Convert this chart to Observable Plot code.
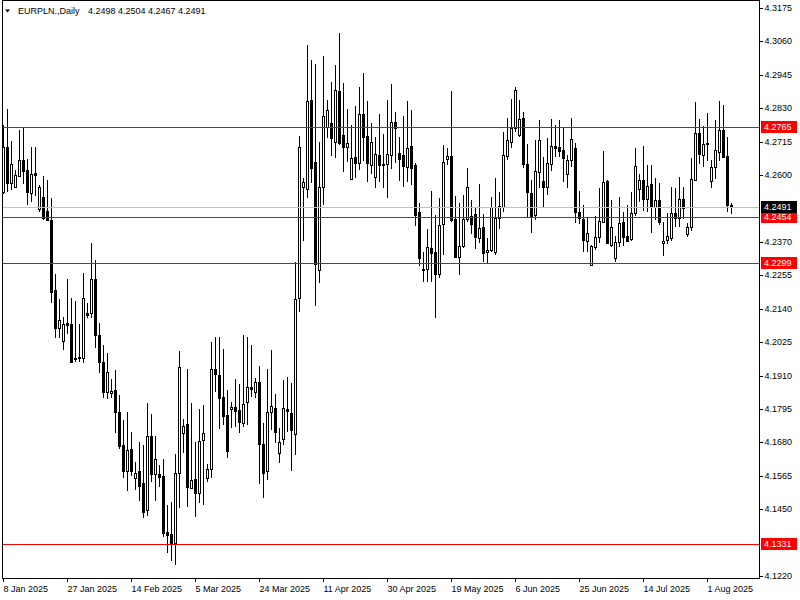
<!DOCTYPE html>
<html>
<head>
<meta charset="utf-8">
<script src="https://cdn.jsdelivr.net/npm/d3@7"></script>
<script src="https://cdn.jsdelivr.net/npm/@observablehq/plot@0.6"></script>
<style>
  html, body { margin: 0; padding: 0; background: #fff; }
  #chart { width: 800px; height: 600px; }
</style>
</head>
<body>
<div id="chart"></div>
<script>
// ---------------- data ----------------
const symbol = "EURPLN.,Daily";

const open = [
4.2542,4.2697,4.2573,4.2559,4.2597,4.2652,4.2618,4.2539,4.2608,4.2484,
4.2525,4.2475,4.2446,4.2205,4.2074,4.2029,4.2091,4.2088,4.1971,4.1971,
4.1971,4.2126,4.2126,4.2243,4.2050,4.1957,4.1854,4.1850,4.1861,4.1785,
4.1671,4.1581,4.1657,4.1557,4.1581,4.1540,4.1448,4.1701,4.1572,4.1572,
4.1565,4.1372,4.1365,4.1334,4.1574,4.1713,4.1744,4.1523,4.1554,4.1506,
4.1688,4.1557,4.1590,4.1933,4.1912,4.1836,4.1775,4.1795,4.1802,4.1792,
4.1747,4.1819,4.1871,4.1854,4.1888,4.1675,4.1581,4.1785,4.1799,4.1644,
4.1692,4.1795,4.1782,4.1709,4.2177,4.2559,4.2552,4.2859,4.2645,4.2273,
4.2559,4.2766,4.2780,4.2714,4.2889,4.2738,4.2697,4.2587,4.2662,4.2642,
4.2811,4.2735,4.2635,4.2594,4.2668,4.2638,4.2638,4.2668,4.2783,4.2676,
4.2668,4.2628,4.2701,4.2635,4.2473,4.2273,4.2278,4.2349,4.2336,4.2260,
4.2432,4.2656,4.2666,4.2449,4.2318,4.2356,4.2449,4.2459,4.2467,4.2384,
4.2421,4.2336,4.2342,4.2336,4.2453,4.2491,4.2666,4.2714,4.2762,4.2738,
4.2797,4.2638,4.2539,4.2463,4.2611,4.2580,4.2559,4.2638,4.2701,4.2697,
4.2686,4.2604,4.2652,4.2694,4.2473,4.2449,4.2373,4.2291,4.2353,4.2387,
4.2439,4.2580,4.2360,4.2315,4.2370,4.2439,4.2390,4.2380,4.2470,4.2552,
4.2583,4.2518,4.2570,4.2491,4.2515,4.2367,4.2377,4.2384,4.2470,4.2453,
4.2518,4.2398,4.2421,4.2583,4.2745,4.2668,4.2711,4.2580,4.2628,4.2680,
4.2755,4.2666,4.2498];

const high = [
4.2773,4.2828,4.2718,4.2618,4.2755,4.2762,4.2656,4.2697,4.2697,4.2566,
4.2597,4.2583,4.2521,4.2260,4.2174,4.2112,4.2243,4.2177,4.2167,4.2088,
4.2263,4.2160,4.2367,4.2308,4.2091,4.2015,4.1988,4.1899,4.1930,4.1843,
4.1757,4.1785,4.1716,4.1613,4.1681,4.1671,4.1816,4.1778,4.1701,4.1603,
4.1624,4.1465,4.1476,4.1640,4.1995,4.1761,4.1933,4.1816,4.1681,4.1795,
4.1809,4.1606,4.2025,4.2043,4.2043,4.2002,4.1861,4.1819,4.1899,4.1882,
4.2050,4.2043,4.2015,4.1902,4.1944,4.1747,4.1933,4.1998,4.1847,4.1730,
4.1895,4.1906,4.1885,4.2301,4.2735,4.2590,4.3048,4.2996,4.2983,4.2714,
4.3010,4.2858,4.2921,4.2980,4.3089,4.2917,4.2828,4.2773,4.2838,4.2904,
4.2952,4.2855,4.2780,4.2731,4.2811,4.2741,4.2858,4.2914,4.2818,4.2731,
4.2804,4.2855,4.2824,4.2642,4.2504,4.2336,4.2415,4.2546,4.2463,4.2521,
4.2704,4.2694,4.2890,4.2528,4.2504,4.2531,4.2625,4.2515,4.2487,4.2570,
4.2467,4.2384,4.2525,4.2590,4.2542,4.2749,4.2797,4.2862,4.2904,4.2858,
4.2818,4.2707,4.2583,4.2721,4.2788,4.2662,4.2728,4.2794,4.2773,4.2788,
4.2762,4.2668,4.2797,4.2711,4.2546,4.2497,4.2456,4.2360,4.2459,4.2556,
4.2683,4.2583,4.2514,4.2390,4.2525,4.2473,4.2497,4.2542,4.2694,4.2604,
4.2701,4.2635,4.2635,4.2590,4.2573,4.2439,4.2470,4.2559,4.2556,4.2594,
4.2559,4.2435,4.2659,4.2852,4.2794,4.2769,4.2814,4.2652,4.2788,4.2855,
4.2842,4.2731,4.2504];

const low = [
4.2535,4.2542,4.2549,4.2556,4.2594,4.2570,4.2497,4.2508,4.2528,4.2473,
4.2446,4.2442,4.2160,4.2040,4.2040,4.1998,4.2053,4.1954,4.1957,4.1957,
4.1954,4.2108,4.2108,4.2005,4.1919,4.1833,4.1830,4.1833,4.1713,4.1657,
4.1557,4.1513,4.1565,4.1516,4.1479,4.1420,4.1427,4.1544,4.1479,4.1527,
4.1355,4.1300,4.1272,4.1258,4.1455,4.1644,4.1458,4.1523,4.1424,4.1472,
4.1465,4.1544,4.1557,4.1854,4.1726,4.1740,4.1627,4.1730,4.1733,4.1713,
4.1733,4.1740,4.1836,4.1833,4.1536,4.1489,4.1551,4.1722,4.1678,4.1610,
4.1671,4.1716,4.1581,4.1637,4.2129,4.2373,4.2521,4.2573,4.2150,4.2228,
4.2497,4.2728,4.2666,4.2659,4.2704,4.2611,4.2645,4.2583,4.2590,4.2618,
4.2649,4.2577,4.2604,4.2556,4.2577,4.2556,4.2521,4.2621,4.2642,4.2580,
4.2559,4.2577,4.2566,4.2424,4.2287,4.2232,4.2232,4.2232,4.2108,4.2246,
4.2325,4.2635,4.2440,4.2315,4.2257,4.2349,4.2439,4.2398,4.2346,4.2367,
4.2301,4.2298,4.2336,4.2325,4.2415,4.2473,4.2652,4.2694,4.2749,4.2731,
4.2625,4.2456,4.2401,4.2446,4.2556,4.2487,4.2531,4.2614,4.2662,4.2662,
4.2577,4.2556,4.2628,4.2435,4.2432,4.2336,4.2336,4.2289,4.2342,4.2367,
4.2435,4.2364,4.2353,4.2301,4.2353,4.2356,4.2370,4.2373,4.2459,4.2508,
4.2477,4.2473,4.2401,4.2446,4.2428,4.2322,4.2363,4.2373,4.2421,4.2421,
4.2449,4.2387,4.2408,4.2580,4.2638,4.2628,4.2649,4.2556,4.2587,4.2649,
4.2659,4.2473,4.2467];

const close = [
4.2697,4.2573,4.2638,4.2601,4.2652,4.2614,4.2542,4.2604,4.2601,4.2559,
4.2453,4.2446,4.2198,4.2074,4.2102,4.2088,4.2084,4.1957,4.1967,4.1974,
4.2177,4.2119,4.2243,4.2050,4.1957,4.1854,4.1923,4.1857,4.1785,4.1668,
4.1581,4.1654,4.1581,4.1574,4.1530,4.1441,4.1701,4.1572,4.1624,4.1561,
4.1368,4.1362,4.1334,4.1574,4.1940,4.1737,4.1527,4.1551,4.1506,4.1685,
4.1713,4.1590,4.1933,4.1915,4.1833,4.1771,4.1651,4.1802,4.1788,4.1750,
4.1812,4.1871,4.1864,4.1888,4.1675,4.1574,4.1785,4.1805,4.1716,4.1681,
4.1799,4.1788,4.1722,4.2174,4.2697,4.2577,4.2855,4.2625,4.2294,4.2559,
4.2804,4.2824,4.2728,4.2893,4.2711,4.2697,4.2711,4.2659,4.2642,4.2811,
4.2731,4.2642,4.2714,4.2673,4.2635,4.2635,4.2673,4.2783,4.2762,4.2656,
4.2632,4.2694,4.2625,4.2463,4.2315,4.2278,4.2353,4.2332,4.2260,4.2428,
4.2645,4.2666,4.2446,4.2318,4.2356,4.2449,4.2559,4.2432,4.2387,4.2418,
4.2332,4.2342,4.2491,4.2453,4.2494,4.2668,4.2721,4.2762,4.2893,4.2794,
4.2638,4.2542,4.2459,4.2614,4.2721,4.2559,4.2642,4.2701,4.2694,4.2683,
4.2659,4.2652,4.2725,4.2473,4.2453,4.2377,4.2401,4.2356,4.2387,4.2442,
4.2577,4.2367,4.2421,4.2370,4.2435,4.2387,4.2373,4.2470,4.2632,4.2583,
4.2518,4.2563,4.2491,4.2515,4.2439,4.2373,4.2390,4.2470,4.2453,4.2518,
4.2487,4.2421,4.2587,4.2745,4.2673,4.2707,4.2707,4.2628,4.2687,4.2755,
4.2662,4.2497,4.2491];

// time-axis labels and the bar (index) each one sits on
const dateLabels = ["8 Jan 2025","27 Jan 2025","14 Feb 2025","5 Mar 2025","24 Mar 2025","11 Apr 2025",
                    "30 Apr 2025","19 May 2025","6 Jun 2025","25 Jun 2025","14 Jul 2025","1 Aug 2025"];
const dateLabelBars = [0,16,32,48,64,80,96,112,128,144,160,176];

// price-axis tick labels
const priceTicks = [4.3175,4.3060,4.2945,4.2830,4.2715,4.2600,4.2370,4.2255,4.2140,
                    4.2025,4.1910,4.1795,4.1680,4.1565,4.1450,4.1220];

// horizontal levels
const redLevels = [4.2765, 4.2454, 4.2299, 4.1331];
const bidPrice = 4.2491;

// ---------------- chart ----------------
const FONT = "'Liberation Sans', Arial, sans-serif";
const bars = open.map((o, i) => ({i, o, h: high[i], l: low[i], c: close[i]}));
const labelAt = new Map(dateLabelBars.map((b, k) => [b, dateLabels[k]]));

const plot = Plot.plot({
  width: 800,
  height: 600,
  marginLeft: 2,
  marginRight: 41,
  marginTop: 0,
  marginBottom: 22,
  style: {fontFamily: FONT, fontSize: "9px", color: "#000", background: "#fff", overflow: "visible"},
  x: {domain: [0, bars.length - 1], range: [3, 731], round: true, label: null},
  y: {domain: [4.1220, 4.3175], range: [576, 8], round: true, label: null},
  marks: [
    Plot.ruleX(bars, {x: "i", y1: "l", y2: "h", stroke: "#000", strokeWidth: 1, shapeRendering: "crispEdges"}),
    Plot.rect(bars, {
      x1: d => d.i - 0.25, x2: d => d.i + 0.25,
      y1: "o", y2: "c",
      fill: d => (d.c >= d.o ? "#ffffff" : "#000000"),
      stroke: "#000", strokeWidth: 1, shapeRendering: "crispEdges"
    }),
    Plot.ruleY([bidPrice], {stroke: "#c0c0c0", strokeWidth: 1, shapeRendering: "crispEdges"}),
    Plot.ruleY(redLevels, {stroke: "#ff0000", strokeWidth: 1, shapeRendering: "crispEdges"}),
    Plot.frame({stroke: "#000", shapeRendering: "crispEdges"}),
    Plot.axisY(priceTicks, {anchor: "right", tickSize: 3, tickPadding: 2, label: null,
      tickFormat: d => d.toFixed(4), fill: "#000"}),
    Plot.axisX(dateLabelBars, {anchor: "bottom", tickSize: 4, tickPadding: 3, label: null,
      tickFormat: d => labelAt.get(d), textAnchor: "start", fill: "#000"})
  ]
});

document.getElementById("chart").appendChild(plot);

// price labels on the axis for the horizontal levels
const ys = plot.scale("y");
const svg = d3.select(plot);
const g = svg.append("g").attr("font-family", FONT).attr("font-size", 9).attr("text-anchor", "start");
const levelTags = redLevels.map(v => ({v, bg: "#ff0000"})).concat([{v: bidPrice, bg: "#000000"}]);
for (const t of levelTags) {
  const yy = Math.round(ys.apply(t.v));
  g.append("rect").attr("x", 761).attr("y", yy - 6).attr("width", 36).attr("height", 12).attr("fill", t.bg);
  g.append("text").attr("x", 764).attr("y", yy).attr("dy", "0.35em").attr("fill", "#fff").text(t.v.toFixed(4));
}

// title: symbol, timeframe and last bar OHLC
const last = bars.length - 1;
const tg = svg.append("g").attr("font-family", FONT).attr("font-size", 9).attr("fill", "#000").attr("text-anchor", "start");
tg.append("path").attr("d", "M5,9.5 L10,9.5 L7.5,12.5 Z").attr("fill", "#000");
tg.append("text").attr("x", 18).attr("y", 14).text(symbol);
tg.append("text").attr("x", 88).attr("y", 14)
  .text([open[last], high[last], low[last], close[last]].map(v => v.toFixed(4)).join(" "));
</script>
</body>
</html>
